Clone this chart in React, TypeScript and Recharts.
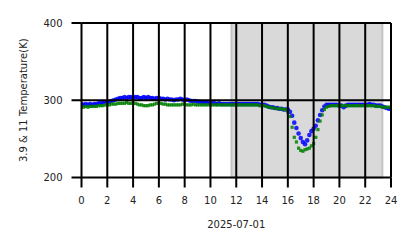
import { ReferenceArea, ReferenceLine, Scatter, ScatterChart, XAxis, YAxis } from "recharts"

// samples every 10 minutes, one row per hour, last value is 24:00
const stepMinutes = 10

const bt39 = [
  295, 294, 295, 294, 295, 294,
  295, 295, 296, 296, 297, 297,
  297, 298, 299, 300, 301, 302,
  303, 303, 304, 303, 304, 304,
  303, 304, 304, 303, 303, 304,
  303, 304, 303, 303, 302, 303,
  303, 302, 302, 301, 302, 301,
  301, 300, 301, 301, 302, 301,
  300, 301, 300, 299, 299, 299,
  298, 298, 297, 297, 297, 297,
  296, 296, 296, 295, 296, 295,
  295, 295, 295, 295, 295, 295,
  295, 295, 295, 295, 295, 295,
  295, 295, 295, 295, 295, 294,
  294, 294, 293, 292, 291, 291,
  290, 290, 289, 289, 288, 288,
  288, 285, 280, 271, 264, 257,
  251, 246, 243, 248, 255, 260,
  263, 267, 274, 281, 287, 292,
  294, 294, 294, 294, 294, 294,
  293, 293, 291, 293, 294, 294,
  294, 294, 294, 294, 294, 294,
  294, 294, 295, 294, 294, 293,
  293, 293, 292, 291, 290, 289,
  289,
]

const bt11 = [
  291, 291, 292, 291, 292, 292,
  292, 292, 293, 293, 293, 294,
  294, 294, 295, 295, 295, 296,
  296, 296, 296, 297, 296, 296,
  296, 296, 295, 294, 294, 293,
  293, 293, 294, 294, 295, 296,
  296, 296, 295, 295, 294, 294,
  294, 294, 294, 294, 294, 295,
  295, 294, 294, 294, 295, 294,
  294, 294, 294, 294, 294, 294,
  294, 294, 294, 294, 294, 294,
  294, 294, 294, 294, 294, 294,
  294, 294, 294, 294, 294, 294,
  294, 294, 294, 294, 294, 293,
  293, 293, 292, 291, 291, 290,
  290, 289, 289, 289, 288, 288,
  285, 279, 265, 252, 246, 238,
  235, 234, 236, 237, 238, 241,
  244, 252, 262, 273, 281, 288,
  291, 292, 293, 293, 293, 293,
  293, 293, 293, 293, 293, 293,
  293, 293, 293, 293, 293, 293,
  293, 293, 293, 293, 293, 292,
  292, 292, 291, 291, 291, 291,
  291,
]

const xTicks = [0, 2, 4, 6, 8, 10, 12, 14, 16, 18, 20, 22, 24]
const yTicks = [200, 300, 400]
const nightStart = 11.63
const nightEnd = 23.33
const dateLabel = "2025-07-01"
const yLabel = "3.9 & 11 Temperature(K)"

const toPoints = (vals: number[]) => vals.map((t, i) => ({ h: (i * stepMinutes) / 60, t }))

const font = { fill: "#222", fontSize: 10, fontFamily: "DejaVu Sans" }

const BlueDot = (p: any) => <circle cx={p.cx} cy={p.cy} r={2.3} fill="#0000ff" fillOpacity={0.85} />
const GreenSquare = (p: any) => (
  <rect x={p.cx - 1.6} y={p.cy - 1.6} width={3.2} height={3.2} fill="#008000" fillOpacity={0.85} />
)

const App = () => {
  return (
    <div style={{ position: "absolute", left: 0, top: 0, background: "#fff" }}>
      <ScatterChart width={418} height={248} margin={{ top: 23, right: 27, bottom: 0, left: 0 }}>
        <XAxis
          type="number"
          dataKey="h"
          domain={[0, 24]}
          ticks={xTicks}
          interval={0}
          allowDataOverflow
          height={70.5}
          tickSize={10}
          tickMargin={9}
          axisLine={false}
          tickLine={{ stroke: "#000", strokeWidth: 2 }}
          tick={font}
          label={{ value: dateLabel, position: "insideBottom", offset: 20, ...font }}
        />
        <YAxis
          type="number"
          dataKey="t"
          domain={[200, 400]}
          ticks={yTicks}
          allowDataOverflow
          width={81.5}
          tickSize={10}
          tickMargin={9}
          axisLine={false}
          tickLine={{ stroke: "#000", strokeWidth: 2 }}
          tick={font}
          label={{ value: yLabel, angle: -90, position: "insideLeft", offset: 23, style: { textAnchor: "middle" }, ...font }}
        />
        <ReferenceArea x1={nightStart} x2={nightEnd} fill="#d9d9d9" fillOpacity={1} stroke="#c4c4c4" strokeWidth={2} />
        <Scatter data={toPoints(bt39)} shape={BlueDot} isAnimationActive={false} />
        <Scatter data={toPoints(bt11)} shape={GreenSquare} isAnimationActive={false} />
        {xTicks.map(x => (
          <ReferenceLine key={"x" + x} x={x} stroke="#000" strokeWidth={2} zIndex={700} />
        ))}
        {yTicks.map(y => (
          <ReferenceLine key={"y" + y} y={y} stroke="#000" strokeWidth={2} zIndex={700} />
        ))}
      </ScatterChart>
    </div>
  )
}

export default App
